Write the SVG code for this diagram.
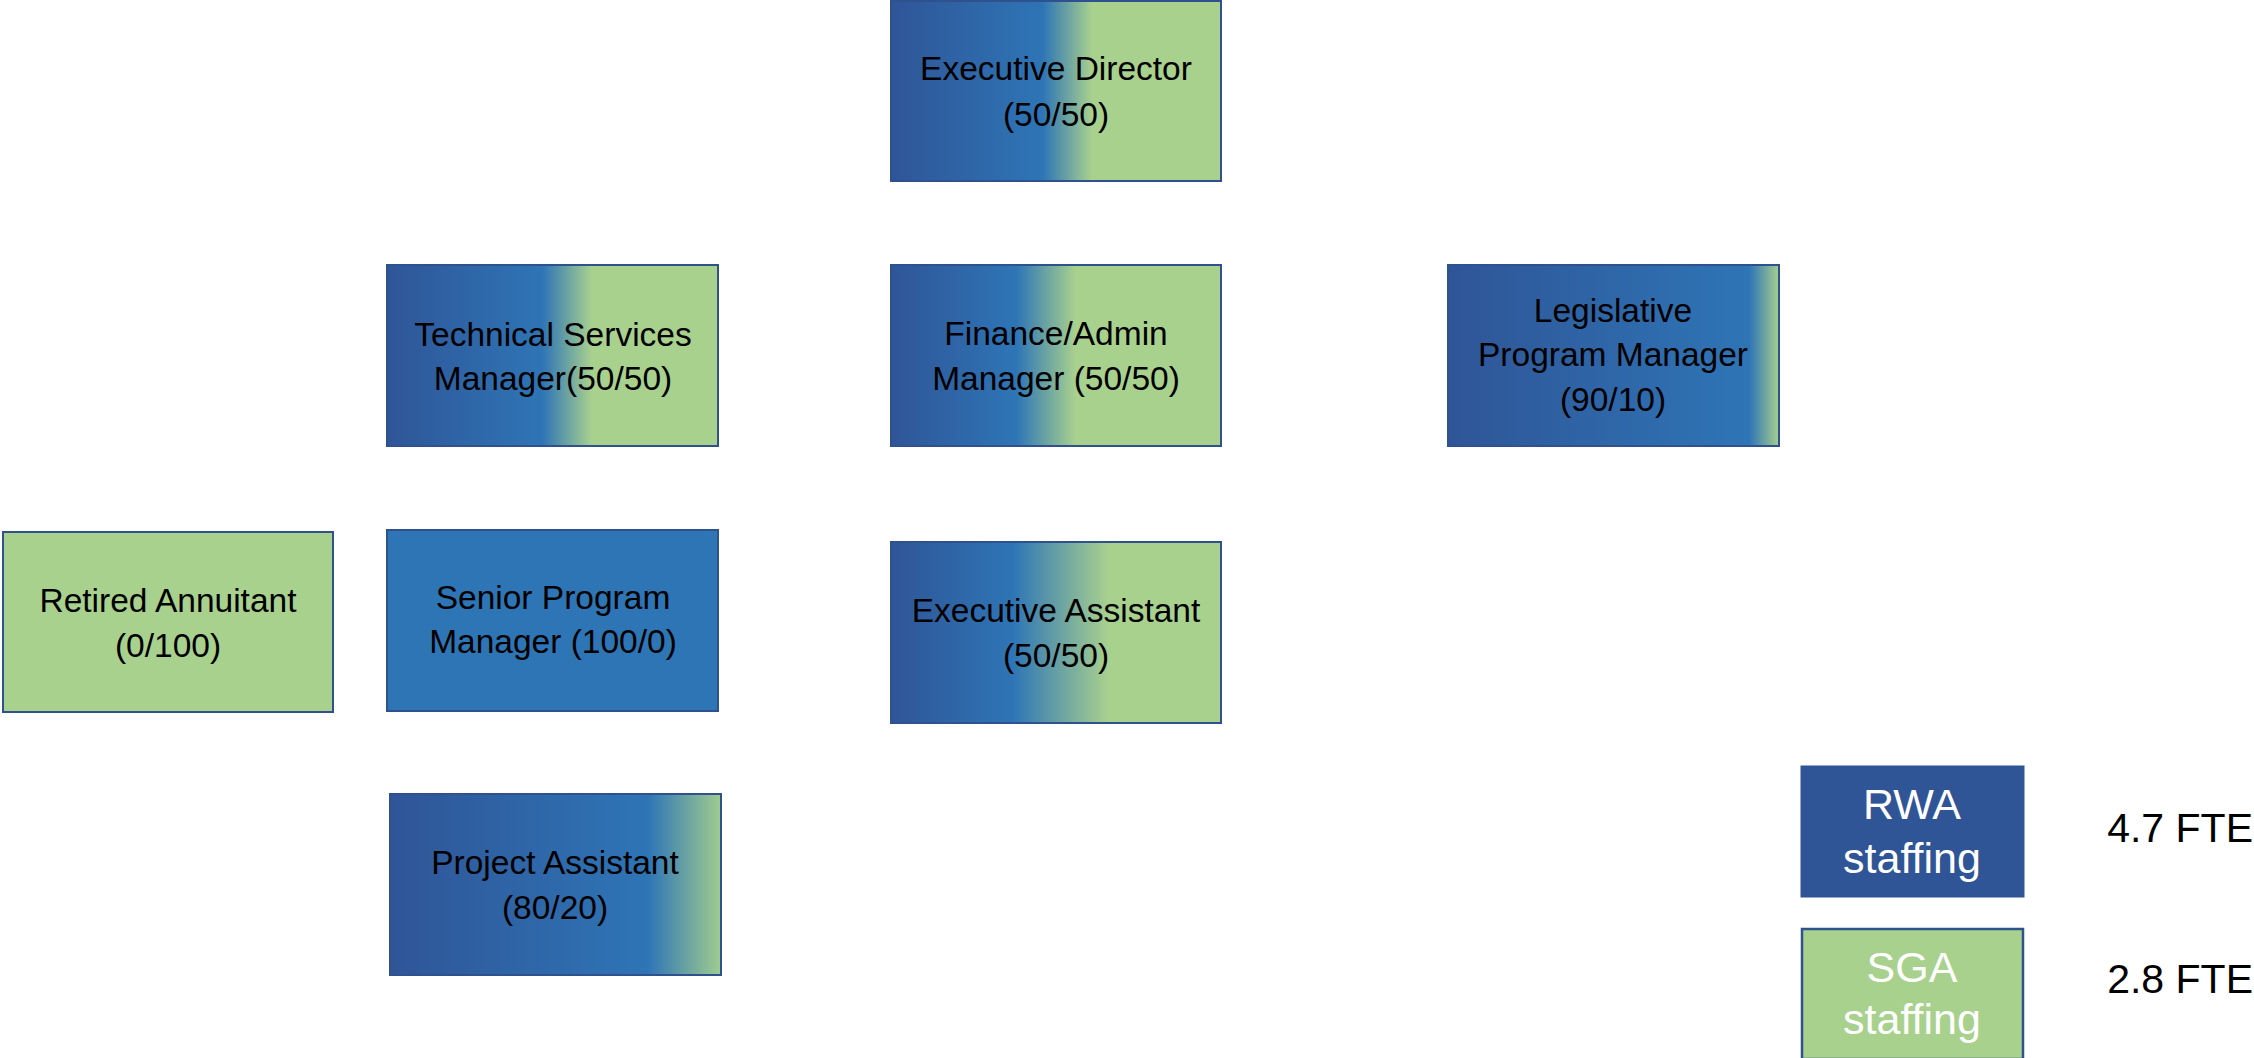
<svg xmlns="http://www.w3.org/2000/svg" width="2254" height="1058" viewBox="0 0 2254 1058">
<style>
.box{stroke:#2F528F;stroke-width:2}
.t{font-family:"Liberation Sans",Arial,sans-serif;font-size:33.5px;fill:#000;text-anchor:middle}
.lg{font-family:"Liberation Sans",Arial,sans-serif;font-size:43px;fill:#fff;text-anchor:middle}
.fte{font-family:"Liberation Sans",Arial,sans-serif;font-size:41px;fill:#000;text-anchor:end}
</style>
<defs>
<linearGradient id="gED" x1="0" y1="0" x2="1" y2="0"><stop offset="0" stop-color="#2F5597"/><stop offset="0.46" stop-color="#2E75B6"/><stop offset="0.61" stop-color="#A9D18E"/><stop offset="1" stop-color="#A9D18E"/></linearGradient>
<linearGradient id="gTS" x1="0" y1="0" x2="1" y2="0"><stop offset="0" stop-color="#2F5597"/><stop offset="0.47" stop-color="#2E75B6"/><stop offset="0.62" stop-color="#A9D18E"/><stop offset="1" stop-color="#A9D18E"/></linearGradient>
<linearGradient id="gFA" x1="0" y1="0" x2="1" y2="0"><stop offset="0" stop-color="#2F5597"/><stop offset="0.38" stop-color="#2E75B6"/><stop offset="0.56" stop-color="#A9D18E"/><stop offset="1" stop-color="#A9D18E"/></linearGradient>
<linearGradient id="gEA" x1="0" y1="0" x2="1" y2="0"><stop offset="0" stop-color="#2F5597"/><stop offset="0.37" stop-color="#2E75B6"/><stop offset="0.66" stop-color="#A9D18E"/><stop offset="1" stop-color="#A9D18E"/></linearGradient>
<linearGradient id="gLP" x1="0" y1="0" x2="1" y2="0"><stop offset="0" stop-color="#2F5597"/><stop offset="0.91" stop-color="#2E75B6"/><stop offset="1" stop-color="#A5CF8E"/></linearGradient>
<linearGradient id="gPA" x1="0" y1="0" x2="1" y2="0"><stop offset="0" stop-color="#2F5597"/><stop offset="0.78" stop-color="#2E75B6"/><stop offset="1" stop-color="#A0CC8E"/></linearGradient>
</defs>
<g id="connectors"></g>
<g id="executive-director">
<rect class="box" x="891" y="1" width="330" height="180" fill="url(#gED)"/>
<text class="t" x="1056" y="80">Executive Director</text>
<text class="t" x="1056" y="126">(50/50)</text>
</g>
<g id="technical-services-manager">
<rect class="box" x="387" y="265" width="331" height="181" fill="url(#gTS)"/>
<text class="t" x="553" y="346">Technical Services</text>
<text class="t" x="553" y="390">Manager(50/50)</text>
</g>
<g id="finance-admin-manager">
<rect class="box" x="891" y="265" width="330" height="181" fill="url(#gFA)"/>
<text class="t" x="1056" y="345">Finance/Admin</text>
<text class="t" x="1056" y="390">Manager (50/50)</text>
</g>
<g id="legislative-program-manager">
<rect class="box" x="1448" y="265" width="331" height="181" fill="url(#gLP)"/>
<text class="t" x="1613" y="322">Legislative</text>
<text class="t" x="1613" y="366">Program Manager</text>
<text class="t" x="1613" y="411">(90/10)</text>
</g>
<g id="retired-annuitant">
<rect class="box" x="3" y="532" width="330" height="180" fill="#A9D18E"/>
<text class="t" x="168" y="612">Retired Annuitant</text>
<text class="t" x="168" y="657">(0/100)</text>
</g>
<g id="senior-program-manager">
<rect class="box" x="387" y="530" width="331" height="181" fill="#2E75B6"/>
<text class="t" x="553" y="609">Senior Program</text>
<text class="t" x="553" y="653">Manager (100/0)</text>
</g>
<g id="executive-assistant">
<rect class="box" x="891" y="542" width="330" height="181" fill="url(#gEA)"/>
<text class="t" x="1056" y="622">Executive Assistant</text>
<text class="t" x="1056" y="667">(50/50)</text>
</g>
<g id="project-assistant">
<rect class="box" x="390" y="794" width="331" height="181" fill="url(#gPA)"/>
<text class="t" x="555" y="874">Project Assistant</text>
<text class="t" x="555" y="919">(80/20)</text>
</g>
<g id="legend-rwa">
<rect x="1801" y="766" width="223" height="131" fill="#2F5597" stroke="#2F5597" stroke-width="1"/>
<text class="lg" x="1912" y="819">RWA</text>
<text class="lg" x="1912" y="873">staffing</text>
</g>
<g id="legend-sga">
<rect x="1802" y="929" width="221" height="130" fill="#A9D18E" stroke="#2F528F" stroke-width="2.5"/>
<text class="lg" x="1912" y="982">SGA</text>
<text class="lg" x="1912" y="1034">staffing</text>
</g>
<g id="fte-labels">
<text class="fte" x="2253" y="842">4.7 FTE</text>
<text class="fte" x="2253" y="993">2.8 FTE</text>
</g>
</svg>
